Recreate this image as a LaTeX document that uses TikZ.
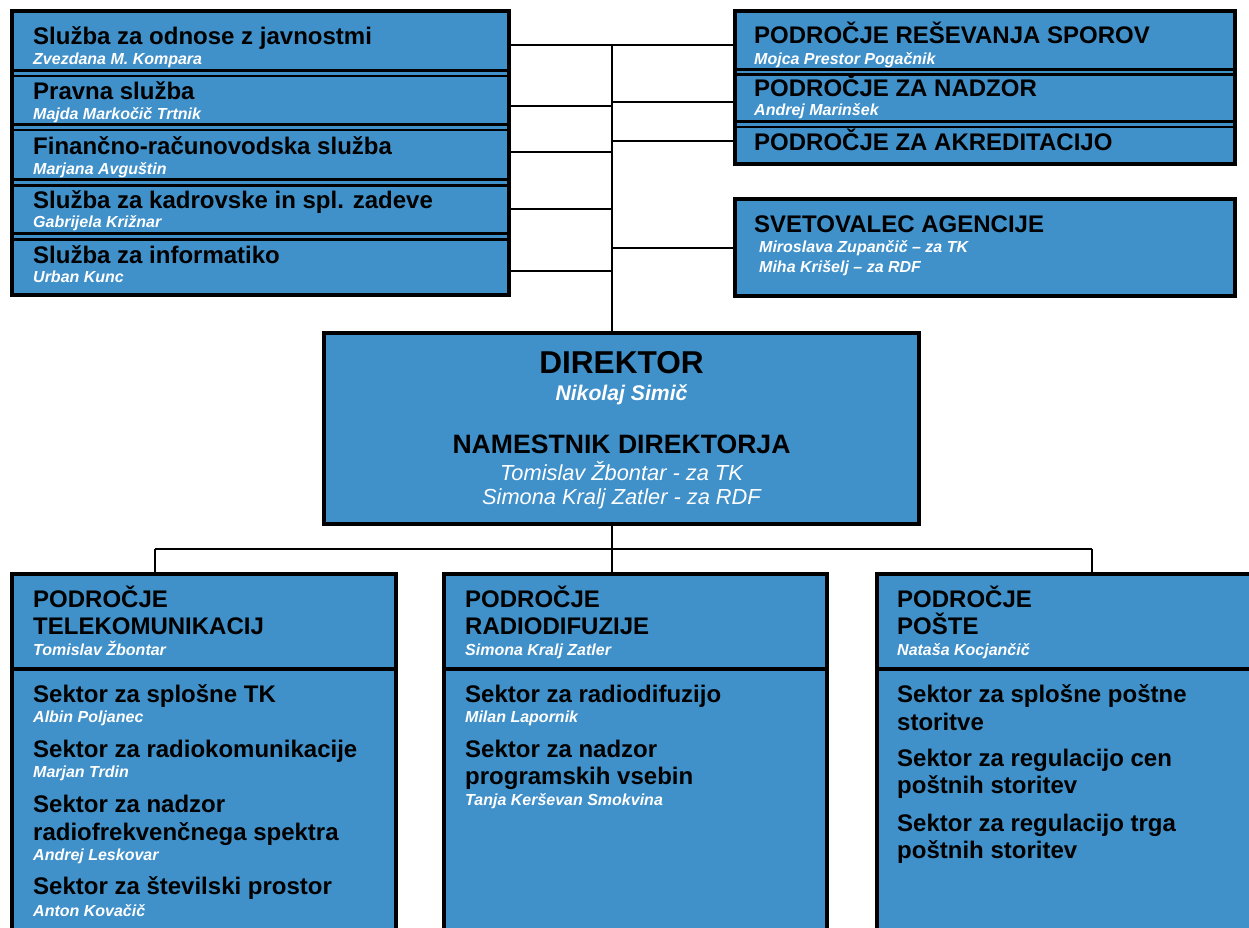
\documentclass[tikz,border=0pt]{standalone}
\usepackage{fontspec}
\setmainfont{Liberation Sans}
\definecolor{boxblue}{RGB}{64,144,201}
\begin{document}
\begin{tikzpicture}[x=1pt,y=-1pt,
  frame/.style={draw=black, line width=4pt, fill=boxblue, inner sep=0pt, outer sep=0pt},
  sepline/.style={draw=black, line width=2.6pt},
  hsep/.style={draw=black, line width=4pt},
  conn/.style={draw=black, line width=2pt},
  ttl/.style={anchor=base west, inner sep=0pt, text=black, font=\fontsize{24}{28}\selectfont\bfseries},
  nm/.style={anchor=base west, inner sep=0pt, text=white, font=\fontsize{16}{19}\selectfont\bfseries\itshape},
  dttl/.style={anchor=base, inner sep=0pt, text=black, font=\fontsize{31.6}{36}\selectfont\bfseries},
  dttlb/.style={anchor=base, inner sep=0pt, text=black, font=\fontsize{26.6}{30}\selectfont\bfseries},
  dnm/.style={anchor=base, inner sep=0pt, text=white, font=\fontsize{21.2}{25}\selectfont\bfseries\itshape},
  dnmb/.style={anchor=base, inner sep=0pt, text=white, font=\fontsize{21.8}{25}\selectfont\itshape},
]
\useasboundingbox (0,0) rectangle (1249,928);

% ---------- frames ----------
\node[frame, minimum width=497.5pt, minimum height=283.7pt] (lg) at (260.25,153.15) {};
\node[frame, minimum width=500pt, minimum height=153pt] (rg) at (985,88) {};
\node[frame, minimum width=500pt, minimum height=97pt] (sv) at (985,247) {};
\node[frame, minimum width=594.5pt, minimum height=191pt] (dir) at (621.5,428.5) {};
\node[frame, minimum width=384.5pt, minimum height=371.5pt] (tk) at (203.75,759.25) {};
\node[frame, minimum width=383pt, minimum height=371.5pt] (rdf) at (635.5,759.25) {};
\node[frame, minimum width=385.5pt, minimum height=371.5pt] (po) at (1069.25,759.25) {};

% ---------- separators ----------
\foreach \c in {73.3,127.3,182.5,236.5}{
  \draw[sepline] (lg.west |- 0,\c-2.9) -- (lg.east |- 0,\c-2.9);
  \draw[sepline] (lg.west |- 0,\c+2.9) -- (lg.east |- 0,\c+2.9);
}
\foreach \c in {72,124.5}{
  \draw[sepline] (rg.west |- 0,\c-2.7) -- (rg.east |- 0,\c-2.7);
  \draw[sepline] (rg.west |- 0,\c+2.7) -- (rg.east |- 0,\c+2.7);
}
\draw[hsep] (tk.west |- 0,669) -- (tk.east |- 0,669);
\draw[hsep] (rdf.west |- 0,669) -- (rdf.east |- 0,669);
\draw[hsep] (po.west |- 0,669) -- (po.east |- 0,669);

% ---------- connectors ----------
\coordinate (jt) at (612,45);
\coordinate (bus) at (612,549);
\coordinate (dtk) at (155,549);
\coordinate (dpo) at (1092,549);
\draw[conn] (lg.east |- jt) -- (rg.west |- jt);
\draw[conn] (jt) -- (jt |- dir.north);
\foreach \y in {106,152,209,271}{
  \draw[conn] (lg.east |- 0,\y) -- (jt |- 0,\y);
}
\draw[conn] (jt |- 0,102) -- (rg.west |- 0,102);
\draw[conn] (jt |- 0,141) -- (rg.west |- 0,141);
\draw[conn] (jt |- 0,248) -- (sv.west |- 0,248);
\draw[conn] (jt |- dir.south) -- (bus);
\draw[conn] (dtk) -- (dpo);
\draw[conn] (dtk) -- (dtk |- tk.north);
\draw[conn] (bus) -- (bus |- rdf.north);
\draw[conn] (dpo) -- (dpo |- po.north);

% ---------- left group texts ----------
\node[ttl] (l1) at (33,45) {Služba za odnose z javnostmi};
\node[nm]  (l1n) at (33,65) {Zvezdana M. Kompara};
\node[ttl] (l2) at (33,100) {Pravna služba};
\node[nm]  (l2n) at (33,119.5) {Majda Markočič Trtnik};
\node[ttl] (l3) at (33,155) {Finančno-računovodska služba};
\node[nm]  (l3n) at (33,175) {Marjana Avguštin};
\node[ttl] (l4) at (33,208.3) {Služba za kadrovske in spl. zadeve};
\node[nm]  (l4n) at (33,227.7) {Gabrijela Križnar};
\node[ttl] (l5) at (33,263) {Služba za informatiko};
\node[nm]  (l5n) at (33,282.7) {Urban Kunc};

% ---------- right group texts ----------
\node[ttl] (r1) at (754,44) {PODROČJE REŠEVANJA SPOROV};
\node[nm]  (r1n) at (754,64.5) {Mojca Prestor Pogačnik};
\node[ttl] (r2) at (754,97) {PODROČJE ZA NADZOR};
\node[nm]  (r2n) at (754,116) {Andrej Marinšek};
\node[ttl] (r3) at (754,151) {PODROČJE ZA AKREDITACIJO};
\node[ttl] (s1) at (754,232) {SVETOVALEC AGENCIJE};
\node[nm]  (s1n) at (759,252) {Miroslava Zupančič – za TK};
\node[nm]  (s2n) at (759,272) {Miha Krišelj – za RDF};

% ---------- director ----------
\node[dttl]  (d1) at (621.5,373) {DIREKTOR};
\node[dnm]   (d1n) at (621.5,400) {Nikolaj Simič};
\node[dttlb] (d2) at (621.5,453) {NAMESTNIK DIREKTORJA};
\node[dnmb]  (d2n) at (621.5,480) {Tomislav Žbontar - za TK};
\node[dnmb]  (d3n) at (621.5,504) {Simona Kralj Zatler - za RDF};

% ---------- telekomunikacije ----------
\node[ttl] (tk1) at (33,607) {PODROČJE};
\node[ttl] (tk2) at (33,634) {TELEKOMUNIKACIJ};
\node[nm]  (tkn) at (33,655) {Tomislav Žbontar};
\node[ttl] (tka) at (33,702) {Sektor za splošne TK};
\node[nm]  (tkan) at (33,722.5) {Albin Poljanec};
\node[ttl] (tkb) at (33,757) {Sektor za radiokomunikacije};
\node[nm]  (tkbn) at (33,777) {Marjan Trdin};
\node[ttl] (tkc) at (33,812) {Sektor za nadzor};
\node[ttl] (tkc2) at (33,840) {radiofrekvenčnega spektra};
\node[nm]  (tkcn) at (33,860) {Andrej Leskovar};
\node[ttl] (tkd) at (33,894) {Sektor za številski prostor};
\node[nm]  (tkdn) at (33,916) {Anton Kovačič};

% ---------- radiodifuzija ----------
\node[ttl] (rd1) at (465,607) {PODROČJE};
\node[ttl] (rd2) at (465,634) {RADIODIFUZIJE};
\node[nm]  (rdn) at (465,655) {Simona Kralj Zatler};
\node[ttl] (rda) at (465,702) {Sektor za radiodifuzijo};
\node[nm]  (rdan) at (465,722) {Milan Lapornik};
\node[ttl] (rdb) at (465,757) {Sektor za nadzor};
\node[ttl] (rdb2) at (465,784) {programskih vsebin};
\node[nm]  (rdbn) at (465,805) {Tanja Kerševan Smokvina};

% ---------- posta ----------
\node[ttl] (po1) at (897,607) {PODROČJE};
\node[ttl] (po2) at (897,634) {POŠTE};
\node[nm]  (pon) at (897,655) {Nataša Kocjančič};
\node[ttl] (poa) at (897,702) {Sektor za splošne poštne};
\node[ttl] (poa2) at (897,730) {storitve};
\node[ttl] (pob) at (897,766) {Sektor za regulacijo cen};
\node[ttl] (pob2) at (897,793) {poštnih storitev};
\node[ttl] (poc) at (897,831) {Sektor za regulacijo trga};
\node[ttl] (poc2) at (897,858) {poštnih storitev};
\end{tikzpicture}
\end{document}
